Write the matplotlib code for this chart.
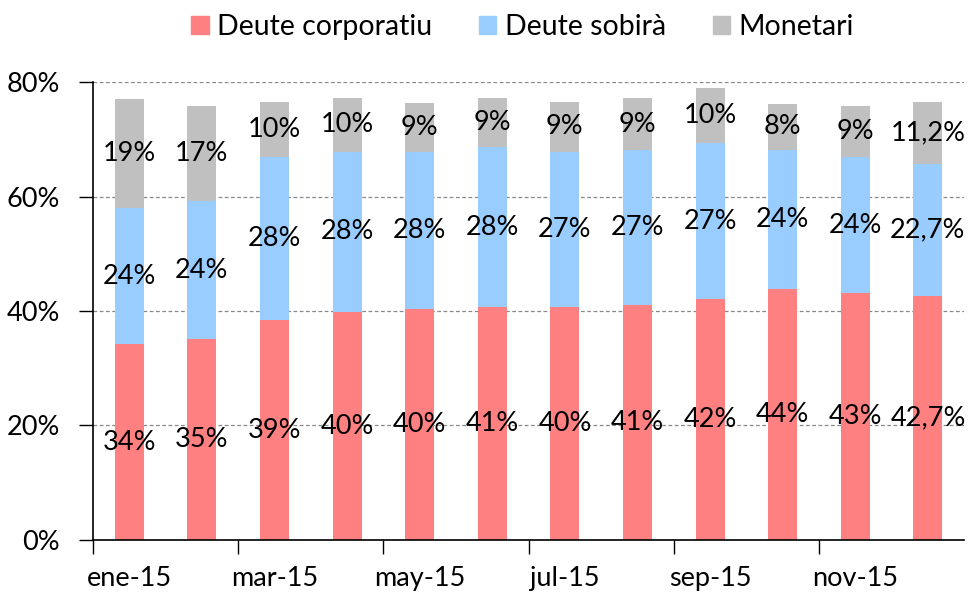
import matplotlib.pyplot as plt
from matplotlib.patches import Patch

plt.rcParams['font.family'] = ['Lato', 'DejaVu Sans']

months = ['ene-15', 'feb-15', 'mar-15', 'abr-15', 'may-15', 'jun-15',
          'jul-15', 'ago-15', 'sep-15', 'oct-15', 'nov-15', 'dic-15']
corporatiu = [34.2, 35.1, 38.4, 39.8, 40.3, 40.7, 40.7, 41.0, 42.1, 43.8, 43.1, 42.6]
sobira = [23.8, 24.1, 28.5, 28.0, 27.5, 27.9, 27.1, 27.1, 27.2, 24.3, 23.8, 23.1]
monetari = [19.0, 16.6, 9.6, 9.4, 8.5, 8.6, 8.7, 9.1, 9.7, 8.1, 8.9, 10.8]

corp_labels = ['34%', '35%', '39%', '40%', '40%', '41%', '40%', '41%', '42%', '44%', '43%', '42,7%']
sob_labels = ['24%', '24%', '28%', '28%', '28%', '28%', '27%', '27%', '27%', '24%', '24%', '22,7%']
mon_labels = ['19%', '17%', '10%', '10%', '9%', '9%', '9%', '9%', '10%', '8%', '9%', '11,2%']

colors = ['#FF8080', '#99CCFF', '#C0C0C0']
names = ['Deute corporatiu', 'Deute sobirà', 'Monetari']

fig = plt.figure(figsize=(9.68, 5.93), dpi=100)
ax = fig.add_axes([0.0961, 0.0894, 0.9, 0.7723])

x = list(range(len(months)))
bottom = [0] * len(months)
for vals, labels, c in zip([corporatiu, sobira, monetari],
                           [corp_labels, sob_labels, mon_labels], colors):
    bars = ax.bar(x, vals, width=0.4, bottom=bottom, color=c, zorder=2)
    ax.bar_label(bars, labels=labels, label_type='center', fontsize=19.5, zorder=3)
    bottom = [b + v for b, v in zip(bottom, vals)]

ax.set_xlim(-0.5, 11.5)
ax.set_ylim(0, 80)
ax.set_yticks([0, 20, 40, 60, 80])
ax.set_yticklabels(['0%', '20%', '40%', '60%', '80%'], fontsize=19.5)
ax.yaxis.grid(True, linestyle=(0, (3, 2)), color='#888888', linewidth=0.9, zorder=0)

ax.set_xticks([-0.5, 1.5, 3.5, 5.5, 7.5, 9.5])
ax.set_xticklabels([])
ax.set_xticks(x[::2], minor=True)
ax.set_xticklabels(months[::2], minor=True, fontsize=19.5)
ax.tick_params(axis='x', which='major', length=10, width=1)
ax.tick_params(axis='x', which='minor', length=0, pad=19)
ax.tick_params(axis='y', length=10, width=1, pad=14)

for s in ['top', 'right']:
    ax.spines[s].set_visible(False)
for s in ['left', 'bottom']:
    ax.spines[s].set_linewidth(1.2)

handles = [Patch(color=c, label=n) for c, n in zip(colors, names)]
fig.legend(handles=handles, loc='center', bbox_to_anchor=(0.54, 0.955), ncol=3,
           frameon=False, fontsize=20.5, handlelength=0.6, handleheight=0.6,
           handletextpad=0.3, columnspacing=1.65)

fig.savefig('out.png', dpi=100)
